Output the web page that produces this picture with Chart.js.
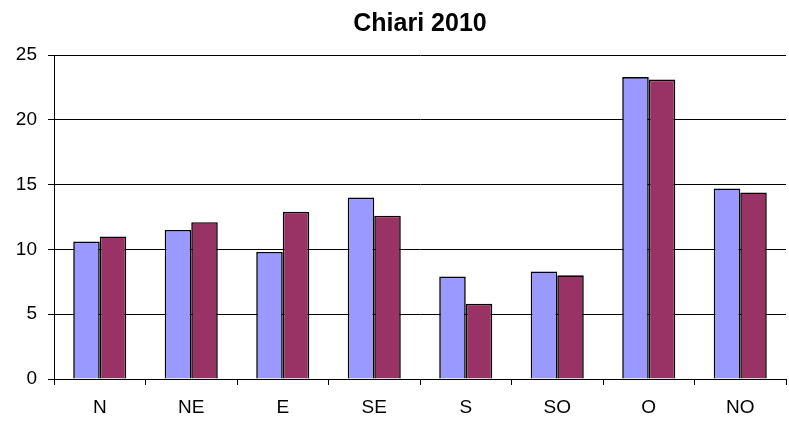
<!DOCTYPE html>
<html>
<head>
<meta charset="utf-8">
<script src="https://cdn.jsdelivr.net/npm/chart.js@4/dist/chart.umd.min.js"></script>
<style>
  html, body { margin: 0; padding: 0; background: #fff; }
  #wrap { width: 789px; height: 424px; }
</style>
</head>
<body>
<div id="wrap"><canvas id="chart" width="789" height="424"></canvas></div>
<script>
// Dati
const directions = ["N", "NE", "E", "SE", "S", "SO", "O", "NO"];
const seriesA = [10.6, 11.5, 9.8, 14.0, 7.9, 8.3, 23.3, 14.7];
const seriesB = [11.0, 12.1, 12.9, 12.6, 5.8, 8.0, 23.1, 14.4];
const yTicks = [0, 5, 10, 15, 20, 25];

const font = "'Liberation Sans', Arial, sans-serif";

new Chart(document.getElementById("chart"), {
    type: "bar",
    data: {
        labels: directions,
        datasets: [{
            label: "A",
            data: seriesA,
            backgroundColor: "#9999FF",
            borderColor: "#000",
            borderWidth: 1.6
        }, {
            label: "B",
            data: seriesB,
            backgroundColor: "#993366",
            borderColor: "#000",
            borderWidth: 1.6
        }]
    },
    options: {
        responsive: false,
        animation: false,
        devicePixelRatio: 1,
        categoryPercentage: 0.58,
        barPercentage: 1.0,
        layout: { padding: { left: 0, right: 3, top: 0, bottom: 0 } },
        plugins: {
            legend: { display: false },
            tooltip: { enabled: false },
            title: {
                display: true,
                text: "Chiari 2010",
                fullSize: false,
                color: "#000",
                font: { family: font, size: 25, weight: "bold" },
                padding: { top: 9, bottom: 16 }
            }
        },
        scales: {
            x: {
                grid: {
                    drawOnChartArea: false,
                    color: "#000",
                    tickLength: 6,
                    tickColor: "#000"
                },
                border: { color: "#000", width: 1 },
                ticks: {
                    color: "#000",
                    padding: 11,
                    font: { family: font, size: 19 }
                },
                afterFit: function (scale) { scale.height = 45; }
            },
            y: {
                min: 0,
                max: 25,
                afterBuildTicks: function (scale) {
                    scale.ticks = yTicks.map(v => ({ value: v }));
                },
                grid: {
                    color: "#000",
                    lineWidth: 1,
                    tickLength: 6,
                    tickColor: "#000"
                },
                border: { color: "#000", width: 1 },
                ticks: {
                    color: "#000",
                    padding: 11,
                    font: { family: font, size: 19 }
                },
                afterFit: function (scale) { scale.width = 54; }
            }
        }
    }
});
</script>
</body>
</html>
